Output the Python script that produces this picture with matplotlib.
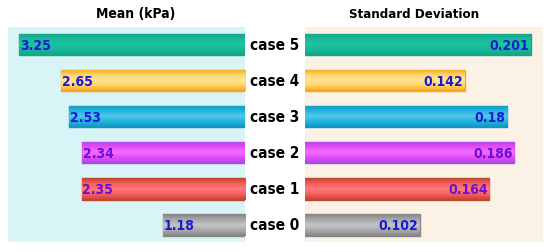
import numpy as np
import matplotlib.pyplot as plt
from matplotlib.colors import LinearSegmentedColormap

cases = ['case 0', 'case 1', 'case 2', 'case 3', 'case 4', 'case 5']
mean_kpa = [1.18, 2.35, 2.34, 2.53, 2.65, 3.25]
std_dev = [0.102, 0.164, 0.186, 0.18, 0.142, 0.201]
mean_labels = ['1.18', '2.35', '2.34', '2.53', '2.65', '3.25']
std_labels = ['0.102', '0.164', '0.186', '0.18', '0.142', '0.201']

bar_colors = ['#a8a8a8', '#f65e5e', '#e64af7', '#1fb4df', '#ffd566', '#17b898']
edge_colors = ['#858585', '#c0452e', '#a94be6', '#1596c2', '#f7a51e', '#13a587']
light_colors = ['#c4c4c4', '#ff7a7a', '#f070ff', '#52c8ea', '#ffe49a', '#1fc4a3']
text_colors = ['#1a1ad6', '#6a10d8', '#6a10d8', '#1a1ad6', '#1a1ad6', '#1a1ad6']

fam = ['DejaVu Sans']
st = 'condensed'

W, H = 550, 253
fig = plt.figure(figsize=(5.5, 2.53), dpi=100)
fig.patch.set_facecolor('white')

def px_axes(x0, x1, y0, y1):
    return fig.add_axes([x0 / W, 1 - y1 / H, (x1 - x0) / W, (y1 - y0) / H])

def shade(ax, bars):
    # glossy vertical gradient inside each bar
    for b, c, lc, ec in zip(bars, bar_colors, light_colors, edge_colors):
        cmap = LinearSegmentedColormap.from_list('g', [ec, c, lc, c, ec])
        x0, y0 = b.get_x(), b.get_y()
        grad = np.linspace(0, 1, 64).reshape(-1, 1)
        im = ax.imshow(grad, cmap=cmap, aspect='auto', origin='lower',
                       extent=[x0, x0 + b.get_width(), y0, y0 + b.get_height()],
                       zorder=2)
        im.set_clip_path(b)

axL = px_axes(8, 245, 28, 243)
axR = px_axes(305, 543, 28, 243)

ypos = list(range(len(cases)))

# --- left: mean ---
axL.set_facecolor('#d9f4f6')
bl = axL.barh(ypos, mean_kpa, height=0.6, color=bar_colors, edgecolor=edge_colors,
              linewidth=1.0, zorder=1)
shade(axL, bl)
for y, v, lab, c in zip(ypos, mean_kpa, mean_labels, text_colors):
    axL.text(v - 0.01, y, lab, ha='left', va='center', color=c, zorder=3,
             fontsize=10, fontweight='bold', family=fam, fontstretch=st)

# --- right: standard deviation ---
axR.set_facecolor('#fbf1e5')
br = axR.barh(ypos, std_dev, height=0.6, color=bar_colors, edgecolor=edge_colors,
              linewidth=1.0, zorder=1)
shade(axR, br)
for y, v, lab, c in zip(ypos, std_dev, std_labels, text_colors):
    axR.text(v - 0.0015, y, lab, ha='right', va='center', color=c, zorder=3,
             fontsize=10, fontweight='bold', family=fam, fontstretch=st)

axL.set_xlim(3.41, 0)
axR.set_xlim(0, 0.2117)
for ax in (axL, axR):
    ax.set_ylim(-0.48, 5.49)
    ax.set_xticks([])
    ax.set_yticks([])
    for s in ax.spines.values():
        s.set_visible(False)

# case labels in the middle
for y, name in zip(ypos, cases):
    ypix = 226 - y * 36
    fig.text(275 / W, 1 - ypix / H, name, ha='center', va='center',
             fontsize=11, fontweight='bold', family=fam, fontstretch=st)

fig.text(136 / W, 1 - 14 / H, 'Mean (kPa)', ha='center', va='center',
         fontsize=10, fontweight='bold', family=fam, fontstretch=st)
fig.text(414 / W, 1 - 14 / H, 'Standard Deviation', ha='center', va='center',
         fontsize=9.5, fontweight='bold', family=fam, fontstretch=st)

fig.savefig('out.png', dpi=100)
